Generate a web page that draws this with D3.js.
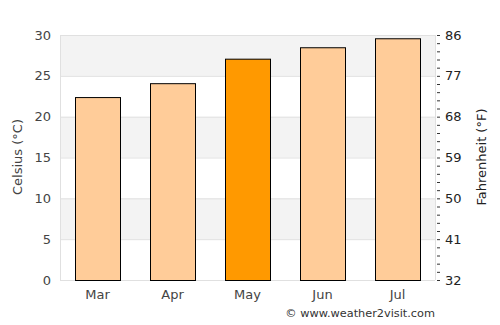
<!DOCTYPE html>
<html><head><meta charset="utf-8">
<script src="https://cdn.jsdelivr.net/npm/d3@7"></script>
<style>body{margin:0;background:#fff}svg{display:block;font-family:"DejaVu Sans",sans-serif}</style>
</head><body><svg id="c" width="500" height="325"></svg>
<script>
const months = ["Mar","Apr","May","Jun","Jul"];
const celsius = [22.4, 24.1, 27.1, 28.5, 29.6];
const highlight = ["May"];
const cTicks = [0,5,10,15,20,25,30];
const fTicks = [32,41,50,59,68,77,86];

const svg = d3.select("#c");
const m = {l:60, r:435, t:35, b:280};
const x = d3.scaleBand().domain(months).range([m.l, m.r]).paddingInner(0.4).paddingOuter(0.2);
const y = d3.scaleLinear().domain([0,30]).range([m.b, m.t]);
const yF = d3.scaleLinear().domain([32,86]).range([m.b, m.t]);

// bands
for (let i = 0; i < cTicks.length-1; i++) {
  const a = cTicks[i], b = cTicks[i+1];
  svg.append("rect").attr("x", m.l).attr("width", m.r-m.l)
    .attr("y", y(b)).attr("height", y(a)-y(b))
    .attr("fill", i % 2 === 1 ? "#f3f3f3" : "#ffffff");
}
// grid lines
svg.selectAll(".g").data(cTicks).join("line")
  .attr("x1", m.l).attr("x2", m.r).attr("y1", d=>y(d)+0.5).attr("y2", d=>y(d)+0.5)
  .attr("stroke", "#e0e0e0");
svg.append("line").attr("x1", m.l+0.5).attr("x2", m.l+0.5).attr("y1", m.t).attr("y2", m.b).attr("stroke","#e0e0e0");
svg.append("line").attr("x1", m.r+0.5).attr("x2", m.r+0.5).attr("y1", m.t).attr("y2", m.b).attr("stroke","#e0e0e0");

// bars
svg.selectAll(".bar").data(months).join("rect")
  .attr("x", d=>x(d)+0.5).attr("width", x.bandwidth())
  .attr("y", (d,i)=>y(celsius[i])+0.5).attr("height", (d,i)=>y(0)-y(celsius[i]))
  .attr("fill", d=>highlight.includes(d) ? "#ff9900" : "#ffcc99")
  .attr("stroke", "#000").attr("stroke-width", 1);

// left axis labels
svg.selectAll(".lt").data(cTicks).join("text")
  .attr("x", 51).attr("y", d=>y(d)).attr("dy","0.35em").attr("text-anchor","end")
  .attr("font-size", 13).attr("fill","#444").text(d=>d);

// right axis
const minor = d3.range(0, 31, 1);
svg.selectAll(".mt").data(minor).join("line")
  .attr("x1", m.r+2).attr("x2", m.r+5)
  .attr("y1", d=>y(d)+0.5).attr("y2", d=>y(d)+0.5).attr("stroke","#333");
svg.selectAll(".rt").data(fTicks).join("text")
  .attr("x", 445).attr("y", d=>yF(d)).attr("dy","0.35em").attr("text-anchor","start")
  .attr("font-size", 13).attr("fill","#222").text(d=>d);

// month labels
svg.selectAll(".xl").data(months).join("text")
  .attr("x", d=>x(d)+x.bandwidth()/2).attr("y", 299).attr("text-anchor","middle")
  .attr("font-size", 13).attr("fill","#444").text(d=>d);

// axis titles
svg.append("text").attr("transform","translate(22,157) rotate(-90)").attr("text-anchor","middle")
  .attr("font-size", 13).attr("fill","#444").text("Celsius (°C)");
svg.append("text").attr("transform","translate(486,157) rotate(-90)").attr("text-anchor","middle")
  .attr("font-size", 13).attr("fill","#222").text("Fahrenheit (°F)");

svg.append("text").attr("x", 435).attr("y", 317).attr("text-anchor","end")
  .attr("font-size", 11.3).attr("fill","#333").text("© www.weather2visit.com");
</script></body></html>
